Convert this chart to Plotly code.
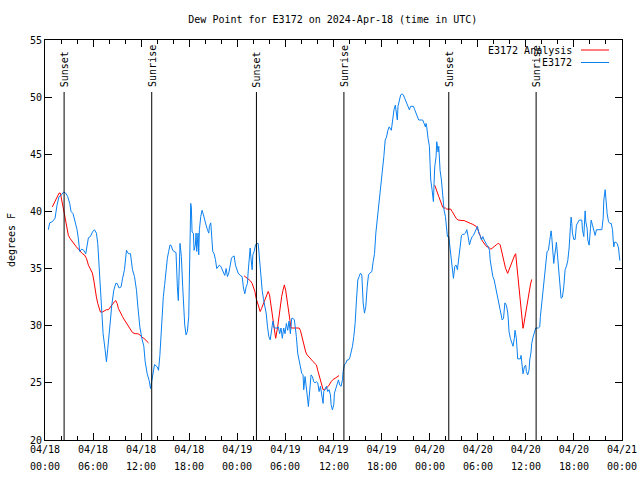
import pandas as pd
import plotly.graph_objects as go

START = pd.Timestamp("2024-04-18 00:00")

# E3172 observations: minutes after 2024-04-18 00:00 UTC, dew point (F)
obs_minutes = [25, 35, 55, 75, 90, 105, 120, 140, 155, 170, 185, 195, 210, 225, 240, 250, 260, 275, 290, 305,
               315, 325, 340, 355, 370, 385, 395, 405, 415, 425, 435, 450, 460, 470, 480, 490, 500, 515, 530, 540,
               555, 570, 580, 595, 610, 625, 640, 655, 670, 685, 695, 710, 725, 740, 750, 765, 780, 790, 800, 810,
               820, 840, 850, 860,
               866, 876, 886, 896, 906, 916, 926, 936, 946, 956, 966, 981, 991, 998, 1011, 1021, 1031, 1036, 1046, 1056,
               1066, 1076, 1081, 1086, 1091, 1096, 1101, 1111, 1116, 1126, 1131, 1136, 1146, 1151, 1156, 1166, 1176, 1186, 1196, 1206,
               1216, 1226, 1231, 1241, 1246, 1256, 1266, 1276, 1286, 1296, 1306, 1316, 1326, 1336, 1346, 1356, 1366, 1376, 1386, 1396,
               1406, 1416, 1426, 1436, 1446, 1461, 1476, 1486, 1496, 1506, 1516, 1521, 1526, 1531, 1536, 1541, 1546, 1551, 1556, 1566,
               1576, 1586, 1596, 1601, 1606, 1616, 1626, 1636, 1646, 1656, 1666, 1676, 1686, 1696, 1706, 1716,
               1737, 1747, 1757, 1767, 1777, 1787, 1797, 1807, 1817, 1827, 1837, 1847, 1857, 1867, 1877, 1882, 1892, 1902, 1912, 1922,
               1932, 1937, 1947, 1957, 1967, 1972, 1982, 1992, 2002, 2012, 2022, 2032, 2042, 2052, 2062, 2072, 2082, 2087, 2097, 2107,
               2117, 2127, 2137, 2142, 2152, 2162, 2167, 2177, 2187, 2197, 2207, 2217, 2227, 2232, 2242, 2252, 2262, 2272, 2282, 2292,
               2302, 2312, 2322, 2332, 2342, 2352, 2362, 2372, 2382, 2392, 2402, 2412, 2422, 2432, 2447, 2457, 2467, 2477, 2487, 2497,
               2507, 2517, 2527, 2537, 2547, 2557, 2567, 2577,
               2593, 2603, 2613, 2623, 2633, 2638, 2643, 2653, 2663, 2673, 2683, 2693, 2703, 2713, 2723, 2728, 2738, 2748, 2758, 2768,
               2778, 2788, 2798, 2818, 2828, 2838, 2848, 2853, 2858, 2868, 2878, 2883, 2888, 2898, 2903, 2908, 2913, 2918, 2928, 2933,
               2938, 2943, 2948, 2953, 2958, 2968, 2973, 2978, 2988, 2998, 3008, 3013, 3023, 3033, 3043, 3053, 3058, 3068, 3078, 3088,
               3098, 3108, 3118, 3128, 3138, 3148, 3158, 3168, 3178, 3188, 3198, 3208, 3218, 3228, 3238, 3248, 3258, 3268, 3278, 3288,
               3298, 3308, 3318, 3328, 3333, 3343, 3353, 3363, 3373, 3383, 3393, 3403, 3413, 3423, 3433, 3443,
               3454, 3464, 3469, 3474, 3484, 3494, 3504, 3514, 3519, 3529, 3534, 3539, 3549, 3559, 3564, 3569, 3579, 3589, 3599, 3604,
               3614, 3624, 3629, 3639, 3644, 3654, 3664, 3674, 3694, 3704, 3709, 3719, 3729, 3739, 3749, 3759, 3769, 3779, 3789, 3794,
               3799, 3804, 3809, 3814, 3819, 3824, 3829, 3834, 3844, 3849, 3854, 3864, 3874, 3884, 3894, 3904, 3914, 3924, 3934, 3939,
               3944, 3949, 3959, 3969, 3979, 3989, 3999, 4019, 4024, 4034, 4044, 4049, 4059, 4064, 4074, 4084, 4089, 4099, 4109, 4119,
               4129, 4169, 4179, 4184, 4194, 4199, 4209, 4219, 4229, 4239, 4249, 4254, 4259, 4264, 4274, 4284, 4294, 4299, 4304]
obs_values = [38.4, 39.0, 39.1, 39.4, 40.55, 41.3, 41.4, 41.7, 41.6, 41.3, 40.7, 40.0, 39.8, 39.2, 38.4, 37.6, 36.5, 36.7, 36.6, 36.3,
              36.9, 37.7, 37.8, 38.2, 38.4, 38.1, 37.2, 35.45, 33.7, 31.7, 29.3, 27.9, 26.85, 28.0, 29.0, 30.5, 31.8, 33.1, 33.7, 33.7,
              33.3, 33.4, 34.1, 34.9, 36.6, 36.3, 36.3, 34.9, 34.3, 33.1, 31.7, 29.9, 28.9, 28.2, 26.85, 25.8, 25.2, 24.5, 25.2, 26.1,
              26.6, 26.4, 26.1, 27.4,
              28.76, 31.1, 32.55, 33.6, 35.0, 35.9, 36.5, 37.07, 37.0, 36.6, 36.5, 36.4, 33.4, 32.2, 37.2, 36.05, 33.4, 31.7, 30.07, 29.2,
              29.5, 30.8, 34.6, 38.1, 40.7, 40.3, 38.2, 38.1, 36.6, 37.07, 38.1, 36.5, 38.1, 36.2, 38.4, 39.55, 40.1, 39.7, 39.1, 38.8,
              38.4, 38.1, 38.7, 39.0, 38.2, 36.5, 36.3, 35.8, 35.0, 35.2, 35.3, 35.2, 34.9, 34.7, 34.4, 35.0, 34.3, 34.6, 35.3, 35.9,
              36.05, 36.1, 35.3, 34.9, 34.6, 34.4, 34.3, 33.3, 32.8, 33.4, 33.7, 34.7, 35.5, 36.3, 36.8, 36.05, 35.2, 34.9, 36.2, 36.5,
              37.07, 37.2, 37.2, 36.5, 35.8, 34.3, 33.1, 32.3, 31.7, 31.1, 29.9, 29.05, 28.76, 29.6, 30.4, 29.8,
              29.8, 29.9, 29.3, 29.8, 28.9, 29.8, 29.3, 30.2, 29.6, 30.4, 29.3, 30.65, 30.65, 30.5, 29.8, 29.05, 27.6, 27.0, 26.6, 25.84,
              25.7, 24.4, 25.55, 24.7, 23.5, 22.93, 24.7, 25.7, 25.55, 25.1, 25.0, 25.1, 25.0, 24.24, 24.7, 23.8, 23.2, 24.24, 24.5, 24.7,
              24.24, 24.4, 23.95, 23.1, 22.64, 23.1, 24.1, 24.5, 25.0, 25.26, 24.8, 24.7, 25.26, 26.0, 26.6, 26.7, 27.0, 27.0, 27.2, 27.6,
              28.2, 29.05, 30.2, 32.26, 34.0, 34.3, 34.6, 34.45, 32.0, 31.1, 31.7, 33.4, 34.45, 34.6, 34.74, 35.6, 36.3, 38.1, 39.25, 40.1,
              41.0, 42.2, 43.3, 44.8, 46.25, 46.5, 47.1, 47.4,
              47.1, 48.3, 48.9, 49.3, 48.3, 48.0, 49.2, 49.9, 50.2, 50.28, 50.2, 49.9, 49.6, 49.3, 49.0, 48.9, 49.2, 49.2, 49.2, 48.9,
              48.6, 48.3, 48.0, 48.0, 48.0, 47.7, 47.4, 47.7, 47.4, 46.4, 45.7, 44.2, 42.75, 41.9, 41.15, 40.86, 42.46, 43.9, 44.8, 46.1,
              45.7, 45.2, 45.7, 44.5, 43.6, 42.75, 41.9, 41.0, 40.1, 39.55, 38.7, 37.8, 37.8, 36.9, 35.76, 34.6, 34.15, 35.2, 35.3, 34.9,
              36.05, 37.2, 37.9, 38.0, 38.0, 38.1, 38.4, 37.8, 37.07, 37.5, 37.8, 37.9, 38.2, 38.5, 38.7, 38.1, 37.9, 37.5, 37.8, 37.5,
              37.2, 37.07, 36.9, 36.6, 35.76, 34.9, 34.3, 34.0, 33.4, 32.8, 32.26, 31.4, 30.8, 30.5, 30.65, 32.0,
              31.8, 31.2, 30.5, 29.5, 28.9, 28.6, 28.2, 28.9, 29.6, 28.9, 27.9, 27.1, 27.1, 27.1, 27.4, 26.7, 25.8, 26.4, 26.55, 26.0,
              25.7, 26.1, 27.0, 27.7, 28.45, 29.0, 29.5, 29.8, 29.8, 29.9, 30.8, 31.95, 33.1, 34.3, 35.45, 36.5, 36.6, 37.5, 38.3, 37.8,
              36.9, 35.7, 35.45, 36.0, 36.3, 36.8, 37.3, 36.6, 35.6, 34.9, 34.0, 32.4, 32.5, 33.4, 34.9, 35.2, 35.7, 36.8, 38.7, 39.5,
              38.95, 38.1, 37.55, 37.55, 38.8, 39.1, 39.24, 39.24, 38.4, 37.8, 40.05, 39.1, 38.5, 37.5, 37.05, 38.5, 39.24, 38.8, 38.2, 37.9,
              38.4, 38.4, 39.4, 41.0, 41.9, 41.0, 39.8, 39.1, 38.95, 38.95, 38.4, 37.5, 36.9, 37.3, 37.3, 37.2, 36.8, 36.2, 35.7]

# E3172 Analysis: minutes after start, dew point (F); None = gap
ana_minutes = [55, 75, 90, 105, 115, 125, 135, 145, 155, 165, 175, 190, 205, 220, 235, 250, 265, 280, 295, 310,
               325, 340, 355, 365, 375, 385, 395, 405, 415, 430, 445, 460, 475, 490, 505, 520, 530, 540, 550, 565,
               580, 595, 610, 625, 640, 655, 675, 695, 710, 725, 740, 760, 775,
               1100,
               1491, 1506, 1521, 1536, 1551, 1561, 1571, 1581, 1591, 1601, 1611, 1621, 1631, 1641, 1651, 1661, 1671, 1681, 1691, 1701,
               1711, 1721, 1727, 1742, 1752, 1762, 1772, 1782, 1792, 1802, 1812, 1822, 1832, 1842, 1857, 1872, 1887, 1902, 1912, 1922,
               1932, 1942, 1952, 1962, 1977, 1992, 2007, 2022, 2032, 2042, 2052, 2062, 2072, 2082, 2097, 2112, 2127, 2142, 2157, 2172,
               2187, 2202,
               2500,
               2918, 2928, 2938, 2948, 2958, 2968, 2978, 2988, 2998, 3008, 3023, 3038, 3048, 3058, 3068, 3078, 3093, 3108, 3123, 3138,
               3153, 3168, 3183, 3198, 3213, 3228, 3238, 3248, 3258, 3268, 3278, 3288, 3298, 3308, 3318, 3328, 3338, 3348, 3358, 3368,
               3378, 3388, 3398, 3408, 3418, 3428, 3438, 3448, 3464, 3474, 3484, 3494, 3504, 3514, 3524, 3534, 3539, 3549, 3559, 3569,
               3579, 3584, 3594, 3604, 3614, 3624, 3634, 3644]
ana_values = [40.4, 40.9, 41.3, 41.6, 41.6, 41.1, 40.4, 39.8, 39.1, 38.4, 37.9, 37.6, 37.35, 37.05, 36.9, 36.7, 36.5, 36.3, 36.2, 35.9,
              35.3, 35.0, 34.6, 34.0, 33.1, 32.5, 31.95, 31.65, 31.2, 31.2, 31.3, 31.4, 31.4, 31.65, 31.95, 32.1, 32.2, 31.95, 31.5, 31.1,
              30.8, 30.5, 30.2, 29.9, 29.6, 29.4, 29.3, 29.3, 29.2, 29.0, 28.9, 28.7, 28.5,
              None,
              34.36, 34.24, 34.07, 33.95, 33.7, 33.4, 33.0, 32.4, 31.97, 31.5, 31.24, 31.5, 31.8, 32.26, 32.55, 32.84, 33.0, 32.7, 31.8, 30.8,
              30.07, 29.5, 28.9, 29.9, 30.95, 31.8, 32.55, 33.1, 33.57, 33.1, 32.26, 31.4, 30.65, 29.8, 29.8, 29.8, 29.8, 29.8, 29.6, 29.05,
              28.6, 28.2, 27.7, 27.45, 27.3, 27.07, 26.86, 26.7, 26.57, 26.1, 25.7, 25.26, 24.8, 24.4, 24.4, 24.6, 24.8, 25.1, 25.3, 25.4,
              25.55, 25.64,
              None,
              42.3, 41.9, 41.6, 41.3, 41.0, 40.65, 40.36, 40.3, 40.3, 40.2, 40.2, 40.2, 40.0, 39.8, 39.55, 39.4, 39.25, 39.2, 39.2, 39.2,
              39.1, 39.05, 38.96, 38.9, 38.8, 38.7, 38.5, 38.15, 37.9, 37.56, 37.36, 37.16, 37.04, 36.9, 36.9, 36.8, 36.7, 36.78, 36.9, 37.0,
              37.07, 37.16, 37.2, 37.07, 36.5, 36.05, 35.5, 35.03, 34.58, 34.9, 35.2, 35.5, 35.9, 36.1, 36.3, 35.16, 34.3, 33.4, 32.25, 31.1,
              29.77, 30.06, 30.8, 31.5, 32.25, 33.0, 33.56, 34.05]

# Sun events (UTC)
sun_times = ["2024-04-18 02:23", "2024-04-18 13:19", "2024-04-19 02:23",
             "2024-04-19 13:18", "2024-04-20 02:23", "2024-04-20 13:17"]
sun_labels = ["Sunset", "Sunrise", "Sunset", "Sunrise", "Sunset", "Sunrise"]

# X tick labels (date line, time line)
tick_times = ["2024-04-18 00:00", "2024-04-18 06:00", "2024-04-18 12:00", "2024-04-18 18:00",
              "2024-04-19 00:00", "2024-04-19 06:00", "2024-04-19 12:00", "2024-04-19 18:00",
              "2024-04-20 00:00", "2024-04-20 06:00", "2024-04-20 12:00", "2024-04-20 18:00",
              "2024-04-21 00:00"]
tick_dates = ["04/18", "04/18", "04/18", "04/18", "04/19", "04/19", "04/19", "04/19",
              "04/20", "04/20", "04/20", "04/20", "04/21"]
tick_hours = ["00:00", "06:00", "12:00", "18:00", "00:00", "06:00", "12:00", "18:00",
              "00:00", "06:00", "12:00", "18:00", "00:00"]

RED = "#ff0000"
BLUE = "#0a80f0"
FONT = "DejaVu Sans Mono"

obs_t = START + pd.to_timedelta(obs_minutes, unit="m")
ana_t = START + pd.to_timedelta(ana_minutes, unit="m")

fig = go.Figure()
fig.add_trace(go.Scatter(x=ana_t, y=ana_values, mode="lines", name="E3172 Analysis",
                         line=dict(color=RED, width=1), connectgaps=False))
fig.add_trace(go.Scatter(x=obs_t, y=obs_values, mode="lines", name="E3172",
                         line=dict(color=BLUE, width=1)))

for t, lab in zip(sun_times, sun_labels):
    fig.add_shape(type="line", xref="x", yref="paper", x0=t, x1=t, y0=0, y1=0.87,
                  line=dict(color="black", width=1))
    fig.add_annotation(x=t, xref="x", y=0.877, yref="paper", text=lab, textangle=-90,
                       showarrow=False, xanchor="center", yanchor="bottom",
                       font=dict(family=FONT, size=10, color="black"))

# second line of x tick labels (wider line spacing as in the original)
for t, h in zip(tick_times, tick_hours):
    fig.add_annotation(x=t, xref="x", y=0, yref="paper", yshift=-26.5, text=h,
                       showarrow=False, xanchor="center", yanchor="middle",
                       font=dict(family=FONT, size=10, color="black"))

# legend (gnuplot style: text right-aligned, sample on the right)
legend_names = ["E3172 Analysis", "E3172"]
legend_colors = [RED, BLUE]
for i, (nm, col) in enumerate(zip(legend_names, legend_colors)):
    ypix = 50 + i * 12.5
    yp = (440 - ypix) / 400
    fig.add_annotation(x=(574 - 45) / 577, xref="paper", y=yp, yref="paper", text=nm,
                       showarrow=False, xanchor="right", yanchor="middle",
                       font=dict(family=FONT, size=10, color="black"))
    fig.add_shape(type="line", xref="paper", yref="paper", x0=(581 - 45) / 577, x1=(609 - 45) / 577,
                  y0=yp, y1=yp, line=dict(color=col, width=1))

fig.update_layout(
    width=640, height=480, autosize=False,
    margin=dict(l=45, r=18, t=40, b=40),
    paper_bgcolor="white", plot_bgcolor="white",
    showlegend=False,
    font=dict(family=FONT, size=10, color="black"),
    title=dict(text="Dew Point for E3172 on 2024-Apr-18 (time in UTC)", x=0.52, xanchor="center",
               y=0.96, yanchor="middle", font=dict(family=FONT, size=10, color="black")),
)
fig.update_xaxes(
    range=["2024-04-18 00:00", "2024-04-21 00:00"],
    tickvals=tick_times, ticktext=tick_dates,
    ticks="inside", ticklen=7, tickcolor="black", tickwidth=1,
    minor=dict(dtick=2 * 3600 * 1000, ticks="inside", ticklen=4, tickcolor="black"),
    showline=True, linecolor="black", linewidth=1, mirror="ticks",
    showgrid=False, zeroline=False, automargin=False,
    tickfont=dict(family=FONT, size=10, color="black"),
)
fig.update_yaxes(
    range=[20, 55], dtick=5, tick0=20,
    ticks="inside", ticklen=7, tickcolor="black", tickwidth=1,
    showline=True, linecolor="black", linewidth=1, mirror="ticks",
    showgrid=False, zeroline=False, automargin=False,
    title=dict(text="degrees F", font=dict(family=FONT, size=10, color="black"), standoff=12),
    tickfont=dict(family=FONT, size=10, color="black"),
)

fig.write_html("out.html", config={"displayModeBar": False},
               post_script="document.body.style.margin='0';")
